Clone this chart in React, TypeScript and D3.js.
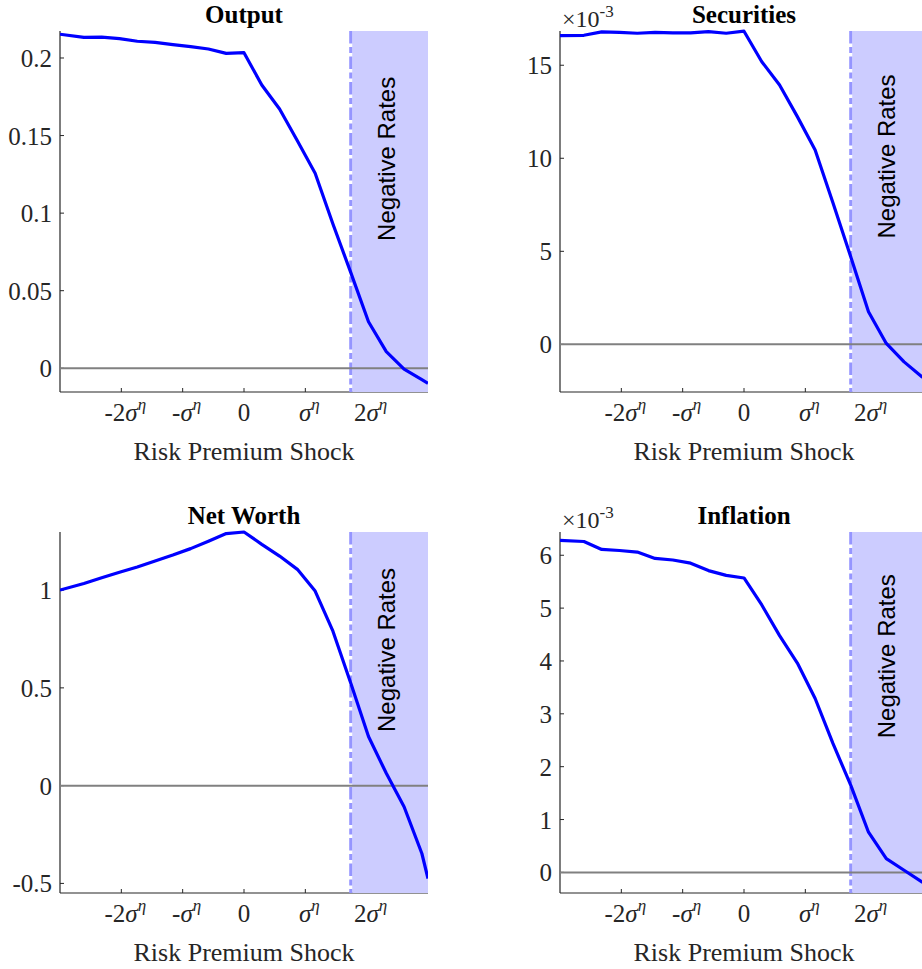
import * as d3 from "d3";
import React from "react";

// shock grid, in units of sigma^eta
const SHOCK = [
  -3, -2.61, -2.32, -2.03, -1.74, -1.45, -1.16, -0.87, -0.58, -0.29, 0, 0.29,
  0.58, 0.87, 1.16, 1.45, 1.74, 2.03, 2.32, 2.61, 2.9, 3,
];

const OUTPUT = [
  0.2153, 0.2133, 0.2135, 0.2125, 0.2108, 0.2101, 0.2086, 0.2073, 0.2058,
  0.203, 0.2034, 0.1826, 0.1671, 0.1466, 0.1257, 0.093, 0.0618, 0.03, 0.0107,
  -0.0005, -0.0073, -0.0097,
];

// x 10^-3
const SECURITIES = [
  16.59, 16.61, 16.79, 16.77, 16.72, 16.77, 16.74, 16.74, 16.81, 16.72, 16.83,
  15.19, 13.94, 12.24, 10.45, 7.61, 4.71, 1.75, 0.05, -0.94, -1.74, -1.95,
];

const NET_WORTH = [
  1.0, 1.034, 1.063, 1.091, 1.118, 1.149, 1.179, 1.212, 1.25, 1.289, 1.297,
  1.234, 1.174, 1.106, 0.995, 0.79, 0.525, 0.251, 0.063, -0.108, -0.347,
  -0.475,
];

// x 10^-3
const INFLATION = [
  6.28, 6.26, 6.11, 6.09, 6.06, 5.94, 5.91, 5.85, 5.71, 5.62, 5.57, 5.06, 4.48,
  3.96, 3.29, 2.44, 1.65, 0.76, 0.26, 0.04, -0.18, -0.25,
];

const X_TICKS = [-2, -1, 0, 1, 2];
const X_TICK_PREFIX = ["-2", "-", "0", "", "2"];
const NEG_RATE_START = 1.74;

const panels = [
  { title: "Output", values: OUTPUT, domain: [-0.0153, 0.2174], ticks: [0, 0.05, 0.1, 0.15, 0.2], exp: false, textY: 0.135, col: 0, row: 0 },
  { title: "Securities", values: SECURITIES, domain: [-2.56, 16.84], ticks: [0, 5, 10, 15], exp: true, textY: 10.1, col: 1, row: 0 },
  { title: "Net Worth", values: NET_WORTH, domain: [-0.549, 1.297], ticks: [-0.5, 0, 0.5, 1], exp: false, textY: 0.694, col: 0, row: 1 },
  { title: "Inflation", values: INFLATION, domain: [-0.39, 6.44], ticks: [0, 1, 2, 3, 4, 5, 6], exp: true, textY: 4.09, col: 1, row: 1 },
];

const W = 922;
const H = 969;
const serif = "'Liberation Serif', 'Times New Roman', serif";
const sans = "'Liberation Sans', Arial, sans-serif";
const axisColor = "#262626";

function Panel({ p }: { p: (typeof panels)[number] }) {
  const left = 60 + p.col * 500;
  const top = 31 + p.row * 501;
  const w = 368;
  const h = 361;
  const bottom = top + h;

  const x = d3.scaleLinear().domain([-3, 3]).range([left, left + w]);
  const y = d3.scaleLinear().domain(p.domain).range([bottom, top]);
  const line = d3
    .line<number>()
    .x((_, i) => x(SHOCK[i]))
    .y((d) => y(d));

  const clipId = `clip-${p.col}-${p.row}`;
  const shadeX = x(NEG_RATE_START);

  return (
    <g>
      <defs>
        <clipPath id={clipId}>
          <rect x={left} y={top - 2} width={w} height={h + 4} />
        </clipPath>
      </defs>

      {/* axes */}
      <line x1={left} x2={left} y1={top} y2={bottom} stroke={axisColor} strokeWidth={1.2} />
      <line x1={left} x2={left + w} y1={bottom} y2={bottom} stroke={axisColor} strokeWidth={1.2} />
      {p.ticks.map((t) => (
        <g key={`y${t}`}>
          <line x1={left} x2={left + 4} y1={y(t)} y2={y(t)} stroke={axisColor} />
          <text
            x={left - 8}
            y={y(t) + 9}
            textAnchor="end"
            fontFamily={serif}
            fontSize={25}
            fill={axisColor}
          >
            {String(t)}
          </text>
        </g>
      ))}
      {X_TICKS.map((t, i) => (
        <g key={`x${t}`}>
          <line x1={x(t)} x2={x(t)} y1={bottom} y2={bottom - 4} stroke={axisColor} />
          <text
            x={x(t) + (t === 0 ? 0 : 4)}
            y={bottom + 29}
            textAnchor="middle"
            fontFamily={serif}
            fontSize={25}
            fill={axisColor}
          >
            {t === 0 ? (
              "0"
            ) : (
              <>
                {X_TICK_PREFIX[i]}
                <tspan fontStyle="italic">σ</tspan>
                <tspan fontStyle="italic" fontSize={17} dy={-11}>
                  η
                </tspan>
              </>
            )}
          </text>
        </g>
      ))}
      <text
        x={left + w / 2}
        y={bottom + 68}
        textAnchor="middle"
        fontFamily={serif}
        fontSize={26}
        fill={axisColor}
      >
        Risk Premium Shock
      </text>

      {/* negative rates region */}
      <rect x={shadeX + 1.5} y={top} width={left + w - shadeX - 1.5} height={h} fill="#ccccff" />
      <line
        x1={shadeX}
        x2={shadeX}
        y1={top}
        y2={bottom}
        stroke="#9595ff"
        strokeWidth={3}
        strokeDasharray="12.5 3.5 6 3.5"
      />

      <g clipPath={`url(#${clipId})`}>
        <line x1={left} x2={left + w} y1={y(0)} y2={y(0)} stroke="#808080" strokeWidth={2} />
        <path d={line(p.values) ?? undefined} fill="none" stroke="#0000ff" strokeWidth={3.2} strokeLinejoin="round" />
      </g>

      <text
        transform={`translate(${x(2.47)},${y(p.textY)}) rotate(-90)`}
        textAnchor="middle"
        fontFamily={sans}
        fontSize={24}
        fill="#000"
      >
        Negative Rates
      </text>

      {/* title */}
      <text
        x={left + w / 2}
        y={top - 8}
        textAnchor="middle"
        fontFamily={serif}
        fontWeight="bold"
        fontSize={25}
        fill="#000"
      >
        {p.title}
      </text>
      {p.exp && (
        <text x={left + 2} y={top - 4} fontFamily={serif} fontSize={24} fill={axisColor}>
          ×10
          <tspan fontSize={17} dy={-10}>
            -3
          </tspan>
        </text>
      )}
    </g>
  );
}

export default function App() {
  return (
    <svg
      width={W}
      height={H}
      style={{ position: "absolute", left: 0, top: 0, background: "#fff" }}
    >
      {panels.map((p) => (
        <Panel key={p.title} p={p} />
      ))}
    </svg>
  );
}
